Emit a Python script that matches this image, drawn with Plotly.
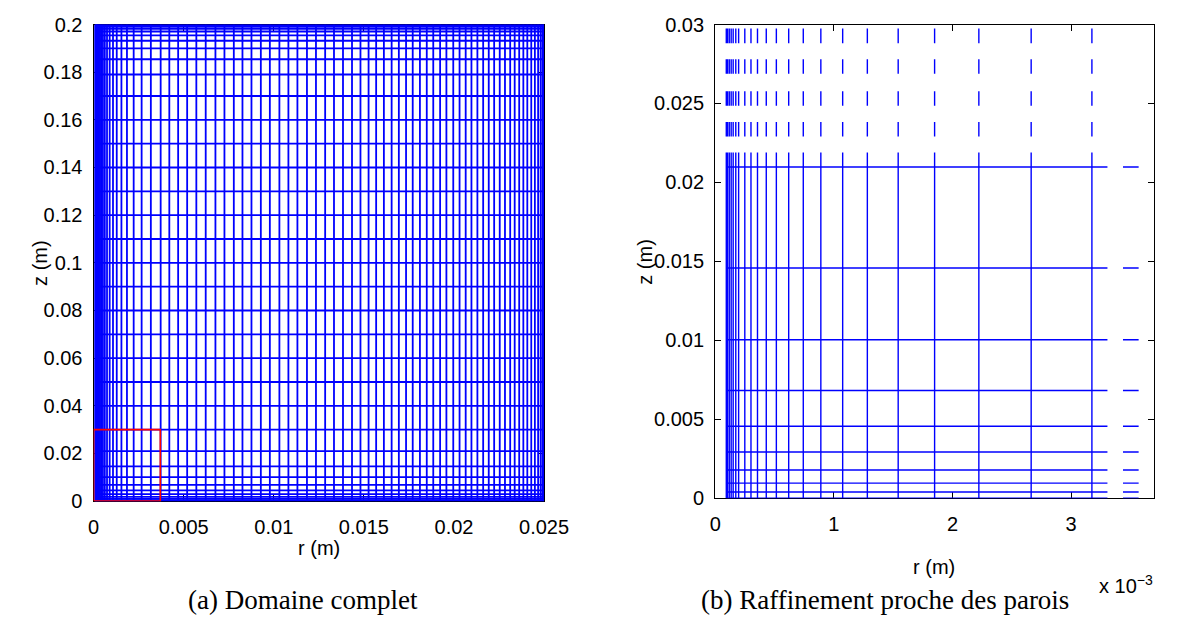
import plotly.graph_objects as go

# ---------------- data ----------------
# radial positions of the mesh lines (m)
r_lines = [
    0.000093, 0.000104, 0.000118, 0.000134, 0.000151, 0.000173, 0.000197,
    0.000249, 0.000301, 0.000356, 0.000430, 0.000515, 0.000619, 0.000742,
    0.000890, 0.001074, 0.001282, 0.001542, 0.001849, 0.002222, 0.002663,
    0.003175, 0.00372, 0.00420, 0.00469, 0.00519, 0.00570, 0.00622,
    0.00676, 0.00726, 0.00778, 0.00826, 0.00876, 0.00928, 0.00978,
    0.01031, 0.01081, 0.01131, 0.01184, 0.01234, 0.01285, 0.01334,
    0.01384, 0.01434, 0.01481, 0.01526, 0.01568, 0.01611, 0.01654,
    0.01694, 0.01734, 0.01771, 0.01811, 0.01849, 0.01885, 0.01923,
    0.01958, 0.01996, 0.02031, 0.02065, 0.02097, 0.02130, 0.02162,
    0.02193, 0.02223, 0.02254, 0.02283, 0.02312, 0.02337, 0.02362,
    0.02385, 0.02407, 0.02429, 0.02449, 0.02467, 0.02481, 0.02491,
    0.02497, 0.02500,
]
# axial positions of the mesh lines (m)
z_lines = [
    0.0, 0.0004, 0.00096, 0.00179, 0.00293, 0.00456, 0.00682, 0.01004,
    0.01458, 0.02098, 0.03, 0.04, 0.05, 0.06, 0.07, 0.08, 0.09, 0.10,
    0.11, 0.12, 0.13, 0.14, 0.15, 0.16, 0.17, 0.17902, 0.18542, 0.18996,
    0.19318, 0.19544, 0.19707, 0.19821, 0.19904, 0.1996, 0.2,
]

# zoomed window (b) and the red box drawn in (a)
zoom_r_max = 0.0037
zoom_z_max = 0.03
# how the mesh lines appear in the zoomed view (segments)
zoom_h_segments = [(0.000093, 0.003306), (0.003437, 0.003569)]
zoom_v_segments = [(0.0, 0.0219), (0.02291, 0.02383), (0.02485, 0.02577),
                   (0.02688, 0.02780), (0.02882, 0.02974)]

# tick labels
left_xticks = [0, 0.005, 0.01, 0.015, 0.02, 0.025]
left_xtext = ["0", "0.005", "0.01", "0.015", "0.02", "0.025"]
left_yticks = [0, 0.02, 0.04, 0.06, 0.08, 0.1, 0.12, 0.14, 0.16, 0.18, 0.2]
left_ytext = ["0", "0.02", "0.04", "0.06", "0.08", "0.1", "0.12", "0.14",
              "0.16", "0.18", "0.2"]
right_xticks = [0, 0.001, 0.002, 0.003]
right_xtext = ["0", "1", "2", "3"]
right_yticks = [0, 0.005, 0.01, 0.015, 0.02, 0.025, 0.03]
right_ytext = ["0", "0.005", "0.01", "0.015", "0.02", "0.025", "0.03"]

# ---------------- build ----------------
W, H = 1186, 626
BLUE = "#0000ff"

def px_x(x):
    return x / W

def px_y(y):
    return 1 - y / H

# full-domain mesh
r_min, r_max = min(r_lines), max(r_lines)
z_min, z_max = min(z_lines), max(z_lines)
gx, gy = [], []
for r in r_lines:
    gx += [r, r, None]
    gy += [z_min, z_max, None]
for z in z_lines:
    gx += [r_min, r_max, None]
    gy += [z, z, None]

# zoomed mesh
zx, zy = [], []
for r in r_lines:
    if r < zoom_r_max:
        for (a, b) in zoom_v_segments:
            zx += [r, r, None]
            zy += [a, b, None]
for z in z_lines:
    if z < zoom_z_max:
        for (a, b) in zoom_h_segments:
            zx += [a, b, None]
            zy += [z, z, None]

fig = go.Figure()
fig.add_trace(go.Scatter(x=gx, y=gy, mode="lines",
                         line=dict(color=BLUE, width=1.8),
                         hoverinfo="skip", showlegend=False,
                         xaxis="x", yaxis="y"))
fig.add_trace(go.Scatter(x=[0, zoom_r_max, zoom_r_max, 0, 0],
                         y=[0, 0, zoom_z_max, zoom_z_max, 0],
                         mode="lines", line=dict(color="#ff0000", width=1.6),
                         hoverinfo="skip", showlegend=False,
                         xaxis="x", yaxis="y"))
fig.add_trace(go.Scatter(x=zx, y=zy, mode="lines",
                         line=dict(color=BLUE, width=1.4),
                         hoverinfo="skip", showlegend=False,
                         xaxis="x2", yaxis="y2"))

tickfont = dict(family="Liberation Sans, Arial, sans-serif", size=20,
                color="black")
common = dict(showline=True, linecolor="black", linewidth=1.3,
              mirror="allticks", ticks="inside", ticklen=6, tickwidth=1,
              tickcolor="black", showgrid=False, zeroline=False,
              tickfont=tickfont, layer="below traces", fixedrange=True)

fig.update_layout(
    width=W, height=H,
    margin=dict(l=0, r=0, t=0, b=0),
    paper_bgcolor="white", plot_bgcolor="white",
    showlegend=False,
    xaxis=dict(domain=[px_x(90), px_x(552.5)], range=[0, 0.025],
               tickvals=left_xticks, ticktext=left_xtext,
               anchor="y", ticklabelstandoff=8, **common),
    yaxis=dict(domain=[px_y(508), px_y(14)], range=[0, 0.2],
               tickvals=left_yticks, ticktext=left_ytext,
               anchor="x", ticklabelstandoff=6, **common),
    xaxis2=dict(domain=[px_x(728.3), px_x(1179)], range=[0, zoom_r_max],
                tickvals=right_xticks, ticktext=right_xtext,
                anchor="y2", ticklabelstandoff=8, **common),
    yaxis2=dict(domain=[px_y(505), px_y(14)], range=[0, zoom_z_max],
                tickvals=right_yticks, ticktext=right_ytext,
                anchor="x2", ticklabelstandoff=6, **common),
)

labfont = dict(family="Liberation Sans, Arial, sans-serif", size=20,
               color="black")
capfont = dict(family="Liberation Serif, DejaVu Serif, serif", size=27,
               color="black")

def ann(text, x, y, font, angle=0, xanchor="center"):
    fig.add_annotation(text=text, x=px_x(x), y=px_y(y), xref="paper",
                       yref="paper", showarrow=False, font=font,
                       textangle=angle, xanchor=xanchor, yanchor="middle")

ann("r (m)", 321, 557, labfont)
ann("z (m)", 35, 261, labfont, angle=-90)
ann("r (m)", 953, 576, labfont)
ann("z (m)", 656, 260, labfont, angle=-90)
ann("x 10<sup>−3</sup>", 1180, 594, labfont, xanchor="right")
ann("(a) Domaine complet", 305, 610, capfont)
ann("(b) Raffinement proche des parois", 903, 610, capfont)

fig.write_html(
    "out.html",
    config={"displayModeBar": False},
    post_script="document.body.style.margin='0px';"
                "document.body.style.overflow='hidden';",
)
